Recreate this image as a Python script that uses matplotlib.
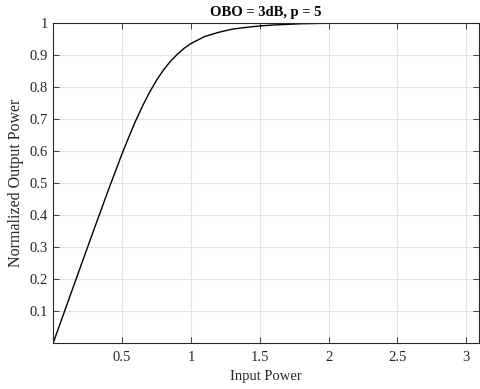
import matplotlib
matplotlib.use("Agg")
import matplotlib.pyplot as plt

# Data
input_power = [0.0, 0.1, 0.2, 0.3, 0.4, 0.5, 0.55, 0.6, 0.65, 0.7, 0.75, 0.8,
               0.85, 0.9, 0.95, 1.0, 1.1, 1.2, 1.3, 1.4, 1.5, 1.6, 1.8, 2.0,
               2.3, 2.6, 3.09]
output_power = [0.0, 0.12, 0.24, 0.359, 0.477, 0.591, 0.644, 0.695, 0.741,
                0.783, 0.820, 0.852, 0.879, 0.901, 0.920, 0.935, 0.957, 0.970,
                0.980, 0.9855, 0.990, 0.993, 0.997, 0.9985, 0.9995, 0.9998, 1.0]
x_ticks = [0.5, 1, 1.5, 2, 2.5, 3]
x_ticklabels = ["0.5", "1", "1.5", "2", "2.5", "3"]
y_ticks = [0.1, 0.2, 0.3, 0.4, 0.5, 0.6, 0.7, 0.8, 0.9, 1.0]
y_ticklabels = ["0.1", "0.2", "0.3", "0.4", "0.5", "0.6", "0.7", "0.8", "0.9", "1"]

plt.rcParams['font.family'] = ['Liberation Serif', 'DejaVu Serif']

fig = plt.figure(figsize=(4.8, 3.89), dpi=100)
ax = fig.add_axes([0.111, 0.119, 0.886, 0.8225])

ax.plot(input_power, output_power, color='black', lw=1.0)

ax.set_xlim(0, 3.09)
ax.set_ylim(0, 1)
ax.set_xticks(x_ticks)
ax.set_xticklabels(x_ticklabels)
ax.set_yticks(y_ticks)
ax.set_yticklabels(y_ticklabels)

ax.grid(True, color='#e3e3e3', lw=0.8)
ax.set_axisbelow(True)
ax.tick_params(direction='in', length=4, width=0.6, top=True, right=True,
               labelsize=10.5, colors='#262626')
ax.tick_params(axis='x', pad=6)
ax.tick_params(axis='y', pad=4)
for s in ax.spines.values():
    s.set_color('#262626')
    s.set_linewidth(0.8)

ax.set_xlabel('Input Power', fontsize=10.5, color='#262626', labelpad=4)
ax.set_ylabel('Normalized Output Power', fontsize=11.5, color='#262626', labelpad=4)
ax.set_title('OBO = 3dB, p = 5', fontsize=10.5, fontweight='bold', pad=5)

fig.savefig('out.png', dpi=100)
